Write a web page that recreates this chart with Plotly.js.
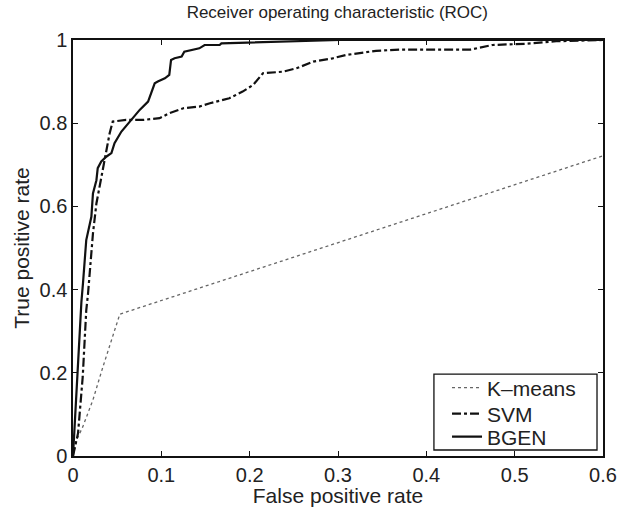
<!DOCTYPE html>
<html>
<head>
<meta charset="utf-8">
<script src="https://cdn.plot.ly/plotly-3.0.1.min.js"></script>
<style>html,body{margin:0;padding:0;background:#fff;}#chart{width:627px;height:507px;}</style>
</head>
<body>
<div id="chart"></div>
<script>
const kmeansFPR = [0, 0.004, 0.011, 0.0226, 0.034, 0.045, 0.053, 1.0];
const kmeansTPR = [0, 0.038, 0.07, 0.135, 0.215, 0.287, 0.341, 1.0];

const svmFPR = [0, 0.0057, 0.011, 0.015, 0.017, 0.0226, 0.0265, 0.030, 0.036, 0.0415, 0.045, 0.06, 0.08, 0.098, 0.109, 0.125, 0.143, 0.155, 0.177, 0.192, 0.204, 0.215, 0.238, 0.253, 0.272, 0.294, 0.309, 0.324, 0.343, 0.37, 0.45, 0.475, 0.513, 0.547, 0.6];
const svmTPR = [0, 0.055, 0.19, 0.35, 0.39, 0.535, 0.607, 0.647, 0.706, 0.776, 0.804, 0.808, 0.808, 0.812, 0.824, 0.836, 0.84, 0.848, 0.86, 0.876, 0.892, 0.92, 0.924, 0.932, 0.948, 0.956, 0.964, 0.968, 0.974, 0.977, 0.977, 0.988, 0.991, 0.997, 1.0];

const bgenFPR = [0, 0.001, 0.004, 0.0095, 0.0113, 0.015, 0.0208, 0.0226, 0.0265, 0.028, 0.032, 0.038, 0.0435, 0.047, 0.0548, 0.064, 0.0755, 0.085, 0.0887, 0.0925, 0.096, 0.104, 0.109, 0.111, 0.115, 0.123, 0.126, 0.136, 0.143, 0.149, 0.166, 0.168, 0.249, 0.302, 0.6];
const bgenTPR = [0, 0.038, 0.18, 0.37, 0.415, 0.519, 0.575, 0.631, 0.663, 0.692, 0.708, 0.72, 0.728, 0.752, 0.78, 0.804, 0.832, 0.852, 0.872, 0.896, 0.9, 0.908, 0.916, 0.952, 0.956, 0.96, 0.972, 0.976, 0.98, 0.988, 0.988, 0.992, 0.996, 1.0, 1.0];

const xTicks = [0, 0.1, 0.2, 0.3, 0.4, 0.5, 0.6];
const xTickText = ['0', '0.1', '0.2', '0.3', '0.4', '0.5', '0.6'];
const yTicks = [0, 0.2, 0.4, 0.6, 0.8, 1];
const yTickText = ['0', '0.2', '0.4', '0.6', '0.8', '1'];

const FONT = 'Liberation Sans, Arial, Helvetica, sans-serif';

const traces = [
  {x: kmeansFPR, y: kmeansTPR, name: 'K\u2013means', mode: 'lines', legend: 'legend',
   line: {color: '#666666', width: 1.3, dash: 'dot'}},
  {x: svmFPR, y: svmTPR, name: 'SVM', mode: 'lines', legend: 'legend2',
   line: {color: '#111111', width: 2.2, dash: 'dashdot'}},
  {x: bgenFPR, y: bgenTPR, name: 'BGEN', mode: 'lines', legend: 'legend3',
   line: {color: '#111111', width: 2.2, dash: 'solid'}}
];

const axisCommon = {
  showgrid: false, zeroline: false, showline: true, mirror: 'ticks',
  linecolor: '#111', linewidth: 1.6, ticks: 'inside', ticklen: 5,
  tickcolor: '#111', tickwidth: 1, tickfont: {family: FONT, size: 20, color: '#222'}
};

function legendAt(yPaper) {
  return {x: 0.7057, xanchor: 'left', y: yPaper, yanchor: 'middle',
          bgcolor: 'rgba(0,0,0,0)', borderwidth: 0,
          font: {family: FONT, size: 21, color: '#222'}};
}

const layout = {
  width: 627, height: 507,
  margin: {l: 73, r: 24, t: 40, b: 51},
  paper_bgcolor: '#fff', plot_bgcolor: '#fff',
  font: {family: FONT, color: '#222'},
  title: {text: 'Receiver operating characteristic (ROC)', font: {family: FONT, size: 17, color: '#222'},
          x: 0.538, xanchor: 'center', y: 0.976, yanchor: 'middle'},
  xaxis: Object.assign({}, axisCommon, {
    range: [0, 0.6], tickvals: xTicks, ticktext: xTickText, ticklabelstandoff: 0,
    title: {text: 'False positive rate', font: {family: FONT, size: 21, color: '#222'}, standoff: 0}
  }),
  yaxis: Object.assign({}, axisCommon, {
    range: [0, 1], tickvals: yTicks, ticktext: yTickText,
    title: {text: 'True positive rate', font: {family: FONT, size: 21, color: '#222'}, standoff: 4}
  }),
  showlegend: true,
  legend: legendAt(0.1635),
  legend2: legendAt(0.101),
  legend3: legendAt(0.0457),
  shapes: [{type: 'rect', xref: 'paper', yref: 'paper', x0: 0.681, x1: 0.9887, y0: 0.0144, y1: 0.197,
            line: {color: '#111', width: 1.3}, fillcolor: '#fff', layer: 'above'}]
};

Plotly.newPlot('chart', traces, layout, {displayModeBar: false, staticPlot: true});
</script>
</body>
</html>
